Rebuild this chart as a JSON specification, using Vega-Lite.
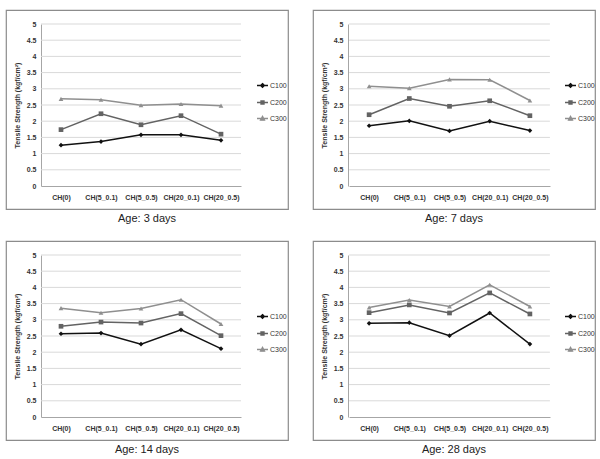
{
  "$schema": "https://vega.github.io/schema/vega-lite/v6.json",
  "background": "white",
  "padding": {"left": 5, "top": 9, "right": 0, "bottom": 0},
  "datasets": {
    "t": [
      {"age": "3", "cat": "CH(0)", "mix": "C100", "v": 1.26},
      {"age": "3", "cat": "CH(5_0.1)", "mix": "C100", "v": 1.37},
      {"age": "3", "cat": "CH(5_0.5)", "mix": "C100", "v": 1.58},
      {"age": "3", "cat": "CH(20_0.1)", "mix": "C100", "v": 1.58},
      {"age": "3", "cat": "CH(20_0.5)", "mix": "C100", "v": 1.41},
      {"age": "3", "cat": "CH(0)", "mix": "C200", "v": 1.74},
      {"age": "3", "cat": "CH(5_0.1)", "mix": "C200", "v": 2.23},
      {"age": "3", "cat": "CH(5_0.5)", "mix": "C200", "v": 1.89},
      {"age": "3", "cat": "CH(20_0.1)", "mix": "C200", "v": 2.17},
      {"age": "3", "cat": "CH(20_0.5)", "mix": "C200", "v": 1.6},
      {"age": "3", "cat": "CH(0)", "mix": "C300", "v": 2.69},
      {"age": "3", "cat": "CH(5_0.1)", "mix": "C300", "v": 2.66},
      {"age": "3", "cat": "CH(5_0.5)", "mix": "C300", "v": 2.49},
      {"age": "3", "cat": "CH(20_0.1)", "mix": "C300", "v": 2.53},
      {"age": "3", "cat": "CH(20_0.5)", "mix": "C300", "v": 2.48},
      {"age": "7", "cat": "CH(0)", "mix": "C100", "v": 1.86},
      {"age": "7", "cat": "CH(5_0.1)", "mix": "C100", "v": 2.01},
      {"age": "7", "cat": "CH(5_0.5)", "mix": "C100", "v": 1.7},
      {"age": "7", "cat": "CH(20_0.1)", "mix": "C100", "v": 2.0},
      {"age": "7", "cat": "CH(20_0.5)", "mix": "C100", "v": 1.71},
      {"age": "7", "cat": "CH(0)", "mix": "C200", "v": 2.2},
      {"age": "7", "cat": "CH(5_0.1)", "mix": "C200", "v": 2.7},
      {"age": "7", "cat": "CH(5_0.5)", "mix": "C200", "v": 2.46},
      {"age": "7", "cat": "CH(20_0.1)", "mix": "C200", "v": 2.63},
      {"age": "7", "cat": "CH(20_0.5)", "mix": "C200", "v": 2.17},
      {"age": "7", "cat": "CH(0)", "mix": "C300", "v": 3.08},
      {"age": "7", "cat": "CH(5_0.1)", "mix": "C300", "v": 3.02},
      {"age": "7", "cat": "CH(5_0.5)", "mix": "C300", "v": 3.29},
      {"age": "7", "cat": "CH(20_0.1)", "mix": "C300", "v": 3.28},
      {"age": "7", "cat": "CH(20_0.5)", "mix": "C300", "v": 2.64},
      {"age": "14", "cat": "CH(0)", "mix": "C100", "v": 2.57},
      {"age": "14", "cat": "CH(5_0.1)", "mix": "C100", "v": 2.59},
      {"age": "14", "cat": "CH(5_0.5)", "mix": "C100", "v": 2.25},
      {"age": "14", "cat": "CH(20_0.1)", "mix": "C100", "v": 2.69},
      {"age": "14", "cat": "CH(20_0.5)", "mix": "C100", "v": 2.11},
      {"age": "14", "cat": "CH(0)", "mix": "C200", "v": 2.8},
      {"age": "14", "cat": "CH(5_0.1)", "mix": "C200", "v": 2.93},
      {"age": "14", "cat": "CH(5_0.5)", "mix": "C200", "v": 2.9},
      {"age": "14", "cat": "CH(20_0.1)", "mix": "C200", "v": 3.19},
      {"age": "14", "cat": "CH(20_0.5)", "mix": "C200", "v": 2.51},
      {"age": "14", "cat": "CH(0)", "mix": "C300", "v": 3.36},
      {"age": "14", "cat": "CH(5_0.1)", "mix": "C300", "v": 3.22},
      {"age": "14", "cat": "CH(5_0.5)", "mix": "C300", "v": 3.35},
      {"age": "14", "cat": "CH(20_0.1)", "mix": "C300", "v": 3.62},
      {"age": "14", "cat": "CH(20_0.5)", "mix": "C300", "v": 2.87},
      {"age": "28", "cat": "CH(0)", "mix": "C100", "v": 2.89},
      {"age": "28", "cat": "CH(5_0.1)", "mix": "C100", "v": 2.91},
      {"age": "28", "cat": "CH(5_0.5)", "mix": "C100", "v": 2.51},
      {"age": "28", "cat": "CH(20_0.1)", "mix": "C100", "v": 3.21},
      {"age": "28", "cat": "CH(20_0.5)", "mix": "C100", "v": 2.25},
      {"age": "28", "cat": "CH(0)", "mix": "C200", "v": 3.22},
      {"age": "28", "cat": "CH(5_0.1)", "mix": "C200", "v": 3.46},
      {"age": "28", "cat": "CH(5_0.5)", "mix": "C200", "v": 3.21},
      {"age": "28", "cat": "CH(20_0.1)", "mix": "C200", "v": 3.83},
      {"age": "28", "cat": "CH(20_0.5)", "mix": "C200", "v": 3.18},
      {"age": "28", "cat": "CH(0)", "mix": "C300", "v": 3.38},
      {"age": "28", "cat": "CH(5_0.1)", "mix": "C300", "v": 3.61},
      {"age": "28", "cat": "CH(5_0.5)", "mix": "C300", "v": 3.41},
      {"age": "28", "cat": "CH(20_0.1)", "mix": "C300", "v": 4.08},
      {"age": "28", "cat": "CH(20_0.5)", "mix": "C300", "v": 3.41}
    ],
    "grid": [
      {"v": 0.5, "a": "CH(0)", "b": "CH(20_0.5)"},
      {"v": 1, "a": "CH(0)", "b": "CH(20_0.5)"},
      {"v": 1.5, "a": "CH(0)", "b": "CH(20_0.5)"},
      {"v": 2, "a": "CH(0)", "b": "CH(20_0.5)"},
      {"v": 2.5, "a": "CH(0)", "b": "CH(20_0.5)"},
      {"v": 3, "a": "CH(0)", "b": "CH(20_0.5)"},
      {"v": 3.5, "a": "CH(0)", "b": "CH(20_0.5)"},
      {"v": 4, "a": "CH(0)", "b": "CH(20_0.5)"},
      {"v": 4.5, "a": "CH(0)", "b": "CH(20_0.5)"},
      {"v": 5, "a": "CH(0)", "b": "CH(20_0.5)"}
    ]
  },
  "spacing": 15,
  "resolve": {"scale": {"stroke": "independent", "fill": "independent", "shape": "independent"}},
  "vconcat": [
    {
      "spacing": 23,
      "resolve": {"scale": {"stroke": "independent", "fill": "independent", "shape": "independent"}},
      "hconcat": [
        {
          "width": 282, "height": 199,
          "title": {"text": "Age: 3 days", "orient": "bottom", "offset": 4},
          "data": {"name": "t"},
          "encoding": {"y": {"field": "v", "type": "quantitative", "title": "Tensile Strength  (kgf/cm²)", "scale": {"domain": [0, 5], "range": [176, 14]}, "axis": {"values": [0, 0.5, 1, 1.5, 2, 2.5, 3, 3.5, 4, 4.5, 5], "format": "~g"}}},
          "layer": [
            {"data": {"name": "grid"}, "mark": {"type": "rule", "xOffset": -20, "x2Offset": 20, "color": "#d9d9d9"}, "encoding": {"x": {"field": "a", "type": "nominal", "title": null, "scale": {"type": "point", "domain": ["CH(0)", "CH(5_0.1)", "CH(5_0.5)", "CH(20_0.1)", "CH(20_0.5)"], "range": [35, 235], "padding": 0.5}}, "x2": {"field": "b"}}},
            {"transform": [{"filter": "datum.age === '3'"}], "mark": {"type": "line", "strokeWidth": 1.5}, "encoding": {"x": {"field": "cat", "type": "nominal", "title": null, "sort": ["CH(0)", "CH(5_0.1)", "CH(5_0.5)", "CH(20_0.1)", "CH(20_0.5)"], "scale": {"type": "point", "domain": ["CH(0)", "CH(5_0.1)", "CH(5_0.5)", "CH(20_0.1)", "CH(20_0.5)"], "range": [35, 235], "padding": 0.5}}, "stroke": {"field": "mix", "type": "nominal", "scale": {"domain": ["C100", "C200", "C300"], "range": ["#111111", "#636363", "#8f8f8f"]}, "legend": {"orient": "none", "legendX": 250, "legendY": 69, "title": null, "padding": 0, "labelFontSize": 7, "labelColor": "#333", "labelOffset": 1, "symbolSize": 121, "symbolStrokeWidth": 1.3, "rowPadding": 5, "encode": {"symbols": {"update": {"shape": {"signal": "datum.value === 'C100' ? 'M-1,0H1M0,-0.35L0.35,0L0,0.35L-0.35,0Z' : datum.value === 'C200' ? 'M-1,0H1M-0.28,-0.28H0.28V0.28H-0.28Z' : 'M-1,0H1M0,-0.38L0.36,0.3H-0.36Z'"}, "fill": {"signal": "datum.value === 'C100' ? '#111111' : datum.value === 'C200' ? '#636363' : '#8f8f8f'"}}}}}}}},
            {"transform": [{"filter": "datum.age === '3'"}], "mark": {"type": "point", "filled": true, "size": 22, "opacity": 1}, "encoding": {"x": {"field": "cat", "type": "nominal", "title": null}, "fill": {"field": "mix", "type": "nominal", "scale": {"range": ["#111111", "#636363", "#8f8f8f"]}, "legend": null}, "shape": {"field": "mix", "type": "nominal", "scale": {"range": ["diamond", "square", "triangle-up"]}, "legend": null}}}
          ]
        },
        {
          "width": 282, "height": 199,
          "title": {"text": "Age: 7 days", "orient": "bottom", "offset": 4},
          "data": {"name": "t"},
          "encoding": {"y": {"field": "v", "type": "quantitative", "title": "Tensile Strength  (kgf/cm²)", "scale": {"domain": [0, 5], "range": [176, 14]}, "axis": {"values": [0, 0.5, 1, 1.5, 2, 2.5, 3, 3.5, 4, 4.5, 5], "format": "~g"}}},
          "layer": [
            {"data": {"name": "grid"}, "mark": {"type": "rule", "xOffset": -20, "x2Offset": 20, "color": "#d9d9d9"}, "encoding": {"x": {"field": "a", "type": "nominal", "title": null, "scale": {"type": "point", "domain": ["CH(0)", "CH(5_0.1)", "CH(5_0.5)", "CH(20_0.1)", "CH(20_0.5)"], "range": [36, 237], "padding": 0.5}}, "x2": {"field": "b"}}},
            {"transform": [{"filter": "datum.age === '7'"}], "mark": {"type": "line", "strokeWidth": 1.5}, "encoding": {"x": {"field": "cat", "type": "nominal", "title": null, "sort": ["CH(0)", "CH(5_0.1)", "CH(5_0.5)", "CH(20_0.1)", "CH(20_0.5)"], "scale": {"type": "point", "domain": ["CH(0)", "CH(5_0.1)", "CH(5_0.5)", "CH(20_0.1)", "CH(20_0.5)"], "range": [36, 237], "padding": 0.5}}, "stroke": {"field": "mix", "type": "nominal", "scale": {"domain": ["C100", "C200", "C300"], "range": ["#111111", "#636363", "#8f8f8f"]}, "legend": {"orient": "none", "legendX": 251, "legendY": 69, "title": null, "padding": 0, "labelFontSize": 7, "labelColor": "#333", "labelOffset": 1, "symbolSize": 121, "symbolStrokeWidth": 1.3, "rowPadding": 5, "encode": {"symbols": {"update": {"shape": {"signal": "datum.value === 'C100' ? 'M-1,0H1M0,-0.35L0.35,0L0,0.35L-0.35,0Z' : datum.value === 'C200' ? 'M-1,0H1M-0.28,-0.28H0.28V0.28H-0.28Z' : 'M-1,0H1M0,-0.38L0.36,0.3H-0.36Z'"}, "fill": {"signal": "datum.value === 'C100' ? '#111111' : datum.value === 'C200' ? '#636363' : '#8f8f8f'"}}}}}}}},
            {"transform": [{"filter": "datum.age === '7'"}], "mark": {"type": "point", "filled": true, "size": 22, "opacity": 1}, "encoding": {"x": {"field": "cat", "type": "nominal", "title": null}, "fill": {"field": "mix", "type": "nominal", "scale": {"range": ["#111111", "#636363", "#8f8f8f"]}, "legend": null}, "shape": {"field": "mix", "type": "nominal", "scale": {"range": ["diamond", "square", "triangle-up"]}, "legend": null}}}
          ]
        }
      ]
    },
    {
      "spacing": 23,
      "resolve": {"scale": {"stroke": "independent", "fill": "independent", "shape": "independent"}},
      "hconcat": [
        {
          "width": 282, "height": 199,
          "title": {"text": "Age: 14 days", "orient": "bottom", "offset": 4},
          "data": {"name": "t"},
          "encoding": {"y": {"field": "v", "type": "quantitative", "title": "Tensile Strength  (kgf/cm²)", "scale": {"domain": [0, 5], "range": [176, 14]}, "axis": {"values": [0, 0.5, 1, 1.5, 2, 2.5, 3, 3.5, 4, 4.5, 5], "format": "~g"}}},
          "layer": [
            {"data": {"name": "grid"}, "mark": {"type": "rule", "xOffset": -20, "x2Offset": 20, "color": "#d9d9d9"}, "encoding": {"x": {"field": "a", "type": "nominal", "title": null, "scale": {"type": "point", "domain": ["CH(0)", "CH(5_0.1)", "CH(5_0.5)", "CH(20_0.1)", "CH(20_0.5)"], "range": [35, 235], "padding": 0.5}}, "x2": {"field": "b"}}},
            {"transform": [{"filter": "datum.age === '14'"}], "mark": {"type": "line", "strokeWidth": 1.5}, "encoding": {"x": {"field": "cat", "type": "nominal", "title": null, "sort": ["CH(0)", "CH(5_0.1)", "CH(5_0.5)", "CH(20_0.1)", "CH(20_0.5)"], "scale": {"type": "point", "domain": ["CH(0)", "CH(5_0.1)", "CH(5_0.5)", "CH(20_0.1)", "CH(20_0.5)"], "range": [35, 235], "padding": 0.5}}, "stroke": {"field": "mix", "type": "nominal", "scale": {"domain": ["C100", "C200", "C300"], "range": ["#111111", "#636363", "#8f8f8f"]}, "legend": {"orient": "none", "legendX": 250, "legendY": 69, "title": null, "padding": 0, "labelFontSize": 7, "labelColor": "#333", "labelOffset": 1, "symbolSize": 121, "symbolStrokeWidth": 1.3, "rowPadding": 5, "encode": {"symbols": {"update": {"shape": {"signal": "datum.value === 'C100' ? 'M-1,0H1M0,-0.35L0.35,0L0,0.35L-0.35,0Z' : datum.value === 'C200' ? 'M-1,0H1M-0.28,-0.28H0.28V0.28H-0.28Z' : 'M-1,0H1M0,-0.38L0.36,0.3H-0.36Z'"}, "fill": {"signal": "datum.value === 'C100' ? '#111111' : datum.value === 'C200' ? '#636363' : '#8f8f8f'"}}}}}}}},
            {"transform": [{"filter": "datum.age === '14'"}], "mark": {"type": "point", "filled": true, "size": 22, "opacity": 1}, "encoding": {"x": {"field": "cat", "type": "nominal", "title": null}, "fill": {"field": "mix", "type": "nominal", "scale": {"range": ["#111111", "#636363", "#8f8f8f"]}, "legend": null}, "shape": {"field": "mix", "type": "nominal", "scale": {"range": ["diamond", "square", "triangle-up"]}, "legend": null}}}
          ]
        },
        {
          "width": 282, "height": 199,
          "title": {"text": "Age: 28 days", "orient": "bottom", "offset": 4},
          "data": {"name": "t"},
          "encoding": {"y": {"field": "v", "type": "quantitative", "title": "Tensile Strength  (kgf/cm²)", "scale": {"domain": [0, 5], "range": [176, 14]}, "axis": {"values": [0, 0.5, 1, 1.5, 2, 2.5, 3, 3.5, 4, 4.5, 5], "format": "~g"}}},
          "layer": [
            {"data": {"name": "grid"}, "mark": {"type": "rule", "xOffset": -20, "x2Offset": 20, "color": "#d9d9d9"}, "encoding": {"x": {"field": "a", "type": "nominal", "title": null, "scale": {"type": "point", "domain": ["CH(0)", "CH(5_0.1)", "CH(5_0.5)", "CH(20_0.1)", "CH(20_0.5)"], "range": [36, 237], "padding": 0.5}}, "x2": {"field": "b"}}},
            {"transform": [{"filter": "datum.age === '28'"}], "mark": {"type": "line", "strokeWidth": 1.5}, "encoding": {"x": {"field": "cat", "type": "nominal", "title": null, "sort": ["CH(0)", "CH(5_0.1)", "CH(5_0.5)", "CH(20_0.1)", "CH(20_0.5)"], "scale": {"type": "point", "domain": ["CH(0)", "CH(5_0.1)", "CH(5_0.5)", "CH(20_0.1)", "CH(20_0.5)"], "range": [36, 237], "padding": 0.5}}, "stroke": {"field": "mix", "type": "nominal", "scale": {"domain": ["C100", "C200", "C300"], "range": ["#111111", "#636363", "#8f8f8f"]}, "legend": {"orient": "none", "legendX": 251, "legendY": 69, "title": null, "padding": 0, "labelFontSize": 7, "labelColor": "#333", "labelOffset": 1, "symbolSize": 121, "symbolStrokeWidth": 1.3, "rowPadding": 5, "encode": {"symbols": {"update": {"shape": {"signal": "datum.value === 'C100' ? 'M-1,0H1M0,-0.35L0.35,0L0,0.35L-0.35,0Z' : datum.value === 'C200' ? 'M-1,0H1M-0.28,-0.28H0.28V0.28H-0.28Z' : 'M-1,0H1M0,-0.38L0.36,0.3H-0.36Z'"}, "fill": {"signal": "datum.value === 'C100' ? '#111111' : datum.value === 'C200' ? '#636363' : '#8f8f8f'"}}}}}}}},
            {"transform": [{"filter": "datum.age === '28'"}], "mark": {"type": "point", "filled": true, "size": 22, "opacity": 1}, "encoding": {"x": {"field": "cat", "type": "nominal", "title": null}, "fill": {"field": "mix", "type": "nominal", "scale": {"range": ["#111111", "#636363", "#8f8f8f"]}, "legend": null}, "shape": {"field": "mix", "type": "nominal", "scale": {"range": ["diamond", "square", "triangle-up"]}, "legend": null}}}
          ]
        }
      ]
    }
  ],
  "config": {
    "font": "Liberation Sans",
    "view": {"stroke": "#8c8c8c", "strokeWidth": 1.2},
    "axis": {"grid": false, "ticks": false, "domainColor": "#a6a6a6", "labelFontSize": 7, "labelFontWeight": "bold", "labelColor": "#333333", "titleFontSize": 7, "titleFontWeight": "bold", "titleColor": "#333333"},
    "axisX": {"offset": -23, "labelAngle": 0, "labelPadding": 7},
    "axisY": {"offset": -35, "labelPadding": 5, "titlePadding": 6},
    "title": {"fontSize": 11, "fontWeight": "normal", "color": "#222222"}
  }
}
